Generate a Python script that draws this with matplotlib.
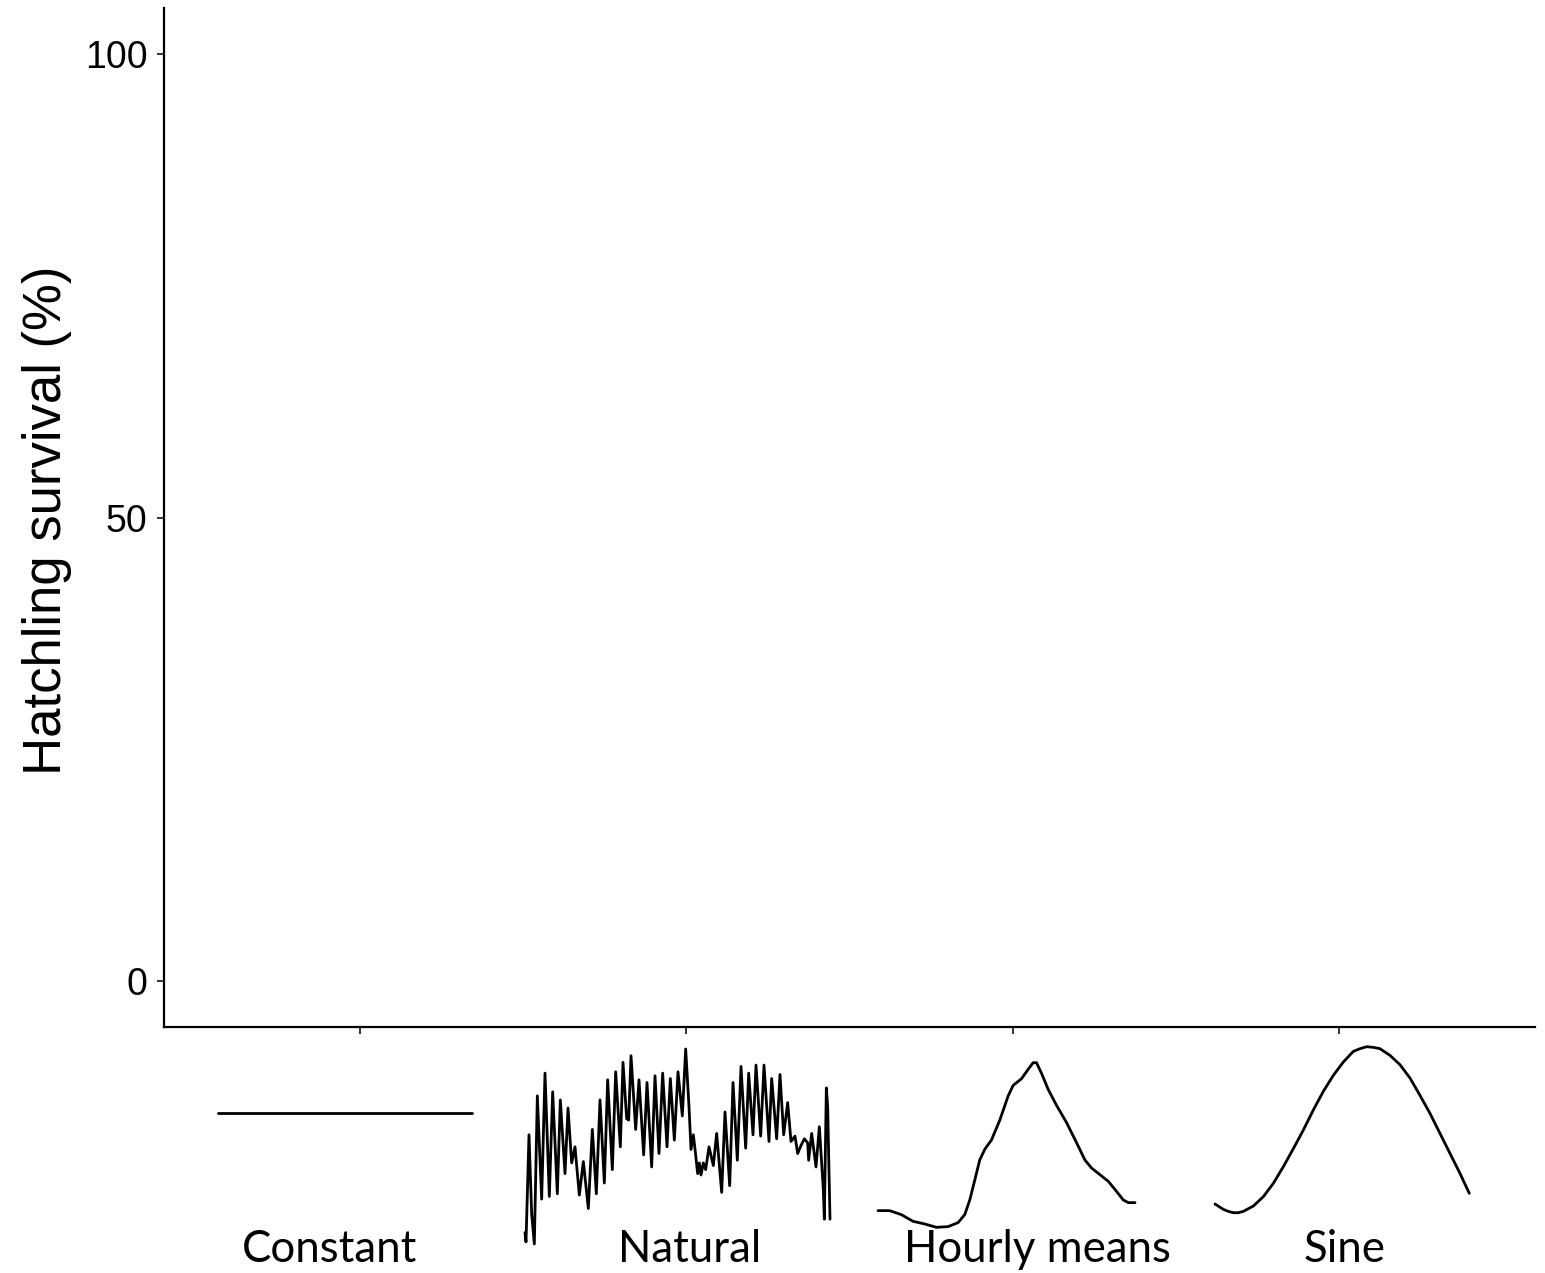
import matplotlib
matplotlib.use("Agg")
import matplotlib.pyplot as plt

# Treatments and survival axis
categories = ["Constant", "Natural", "Hourly means", "Sine"]
y_ticks = [0, 50, 100]
y_label = "Hatchling survival (%)"

# Incubation temperature profiles shown under each treatment
constant_hour = [0, 24]
constant_temp = [26.0, 26.0]

natural_day = [0, 0.12, 0.48, 0.8, 1.12, 1.48, 2.0, 2.4, 2.92, 3.32,
               3.88, 4.24, 4.8, 5.16, 5.6, 6.0, 6.2, 6.52, 7.0, 7.6,
               8.08, 8.56, 9.0, 9.52, 9.92, 10.48, 10.88, 11.44, 11.76, 12.2,
               12.44, 12.72, 13.28, 13.68, 14.24, 14.64, 15.2, 15.6, 16.08, 16.52,
               17.04, 17.44, 17.92, 18.36, 18.88, 19.28, 19.68, 19.92, 20.2, 20.48,
               20.72, 20.92, 21.12, 21.4, 21.68, 22.08, 22.6, 23.0, 23.6, 24.0,
               24.56, 24.96, 25.48, 25.92, 26.48, 26.84, 27.36, 27.72, 28.28, 28.68,
               29.28, 29.6, 30.2, 30.6, 31.04, 31.52, 31.92, 32.4, 32.72, 33.12,
               33.52, 33.92, 34.04, 34.4, 34.92, 35.32, 35.8, 35.92, 36.16, 36.32,
               36.6]
natural_temp = [21.6, 20.9, 28.9, 23.0, 20.75, 31.8, 24.1, 33.5, 24.3, 32.1,
                24.5, 31.5, 26.0, 30.9, 26.8, 28.0, 26.6, 24.4, 26.9, 23.4,
                29.3, 24.5, 31.5, 25.3, 33.0, 26.3, 33.6, 28.0, 34.3, 30.1,
                30.0, 34.8, 29.3, 33.0, 27.4, 32.8, 26.5, 33.3, 27.5, 33.5,
                28.0, 33.1, 28.5, 33.6, 30.3, 35.3, 31.0, 27.8, 28.9, 27.4,
                26.0, 26.8, 25.9, 26.8, 26.3, 28.0, 26.6, 29.0, 24.6, 30.6,
                25.1, 32.8, 27.0, 34.0, 27.9, 33.5, 28.9, 34.1, 28.8, 34.1,
                28.4, 33.1, 28.6, 33.4, 28.9, 31.3, 28.4, 28.8, 27.5, 28.1,
                28.6, 28.3, 27.0, 29.0, 26.5, 29.5, 24.8, 22.6, 32.4, 31.0,
                22.6]

hourly_hour = [0.0, 1.04, 2.09, 3.13, 4.18, 5.22, 6.27, 7.16, 7.76, 8.21,
               8.66, 9.10, 9.55, 10.15, 10.90, 11.64, 12.09, 12.84, 13.43, 13.88,
               14.18, 14.63, 15.22, 15.97, 16.87, 17.76, 18.51, 19.10, 19.85, 20.60,
               21.19, 21.94, 22.39, 22.99]
hourly_temp = [21.2, 21.2, 20.9, 20.4, 20.2, 19.95, 20.0, 20.3, 20.9, 22.0,
               23.5, 25.0, 25.8, 26.5, 28.0, 29.8, 30.6, 31.1, 31.8, 32.3,
               32.3, 31.5, 30.3, 29.1, 27.8, 26.3, 25.0, 24.4, 23.9, 23.4,
               22.8, 22.0, 21.8, 21.8]

sine_hour = [0.0, 0.75, 1.2, 1.65, 2.1, 2.55, 3.45, 4.35, 5.25, 6.15, 7.05,
             7.95, 8.85, 9.75, 10.65, 11.55, 12.45, 13.05, 13.65, 14.25, 14.85,
             15.75, 16.65, 17.55, 18.45, 19.35, 20.25, 21.15, 22.05, 22.89]
sine_temp = [20.95, 20.55, 20.4, 20.3, 20.3, 20.4, 20.8, 21.5, 22.5, 23.75, 25.1,
             26.5, 28.0, 29.4, 30.6, 31.6, 32.4, 32.6, 32.75, 32.7, 32.6,
             32.1, 31.4, 30.4, 29.1, 27.75, 26.25, 24.75, 23.25, 21.75]

W, H = 1545, 1273
DPI = 100
fig = plt.figure(figsize=(W / DPI, H / DPI), dpi=DPI)


def px_box(x0, y0, x1, y1):
    """Pixel box (top-left origin) -> figure-fraction rect."""
    return [x0 / W, (H - y1) / H, (x1 - x0) / W, (y1 - y0) / H]


# Main survival axes
ax = fig.add_axes(px_box(164, 8, 1535, 1027))
ax.set_xlim(0.4, len(categories) + 0.6)
ax.set_ylim(-5, 105)
ax.set_xticks(range(1, len(categories) + 1))
ax.set_xticklabels([])
ax.set_yticks(y_ticks)
ax.set_yticklabels([str(v) for v in y_ticks], fontsize=27,
                   family="Liberation Sans")
for side in ("top", "right"):
    ax.spines[side].set_visible(False)
for side in ("left", "bottom"):
    ax.spines[side].set_linewidth(1.6)
    ax.spines[side].set_color("black")
ax.tick_params(axis="y", length=5, width=1.4, color="#333333", pad=7,
               labelcolor="black")
ax.tick_params(axis="x", length=5, width=1.4, color="#333333")

fig.text(47 / W, 1 - 520 / H, y_label, rotation=90, ha="center", va="center",
         fontsize=38, family="Liberation Sans")

# Temperature profile icons
profiles = [
    (constant_hour, constant_temp, px_box(218, 1093, 472, 1133), (25.0, 27.0)),
    (natural_day, natural_temp, px_box(525, 1049, 830, 1244), (20.75, 35.3)),
    (hourly_hour, hourly_temp, px_box(878, 1062.7, 1135, 1227.3), (19.95, 32.3)),
    (sine_hour, sine_temp, px_box(1215, 1046.7, 1469.3, 1212.7), (20.3, 32.75)),
]
for xs, ys, rect, ylim in profiles:
    iax = fig.add_axes(rect)
    iax.plot(xs, ys, color="black", lw=2.0, clip_on=False,
             solid_joinstyle="round", solid_capstyle="round")
    iax.set_xlim(xs[0], xs[-1])
    iax.set_ylim(*ylim)
    iax.axis("off")

# Treatment names
label_x = [330, 690, 1037, 1345]
for name, x in zip(categories, label_x):
    fig.text(x / W, (H - 1262) / H, name, ha="center", va="baseline",
             fontsize=31.5, family="Lato")

fig.savefig("out.png", dpi=DPI)
